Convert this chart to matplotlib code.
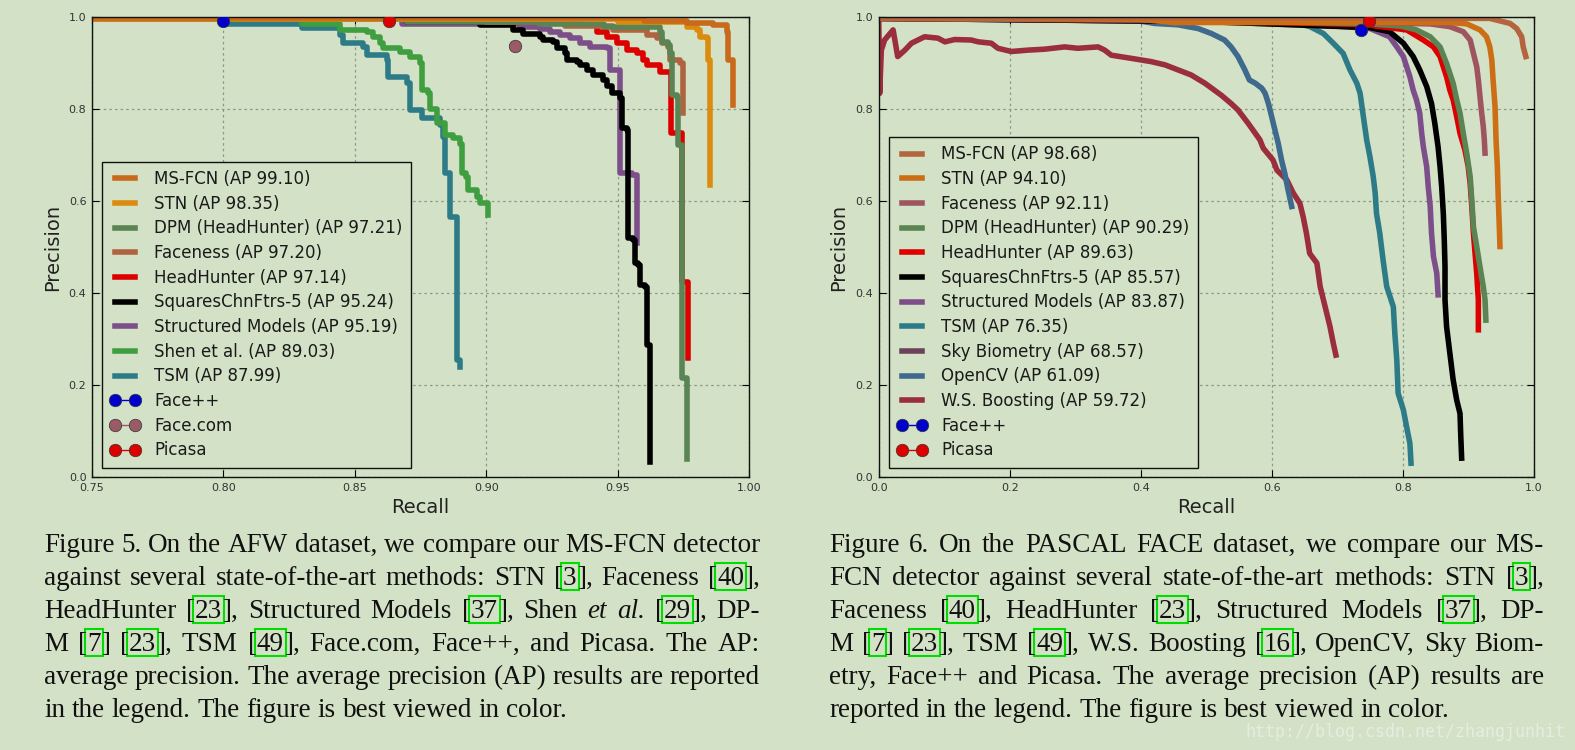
import re
import matplotlib
matplotlib.use("Agg")
import matplotlib.pyplot as plt
from matplotlib.lines import Line2D
from matplotlib.patches import Rectangle
from matplotlib.ticker import FormatStrFormatter

BG = "#d3e2c6"
W, H = 1575, 750

# ---------------- Figure 5 (AFW): step curves, (recall, precision) knots
afw_msfcn = [(0.75, 0.997), (0.96, 0.992), (0.9763, 0.986), (0.9864, 0.983), (0.9915, 0.968),
             (0.9921, 0.907), (0.9940, 0.903), (0.9940, 0.809)]
afw_stn = [(0.75, 0.996), (0.95, 0.990), (0.9763, 0.979), (0.9801, 0.972), (0.9814, 0.957),
           (0.9839, 0.954), (0.9845, 0.907), (0.9852, 0.635)]
afw_dpm = [(0.75, 0.996), (0.87, 0.990), (0.92, 0.985), (0.945, 0.979), (0.9661, 0.968),
           (0.9668, 0.946), (0.9693, 0.939), (0.9699, 0.921), (0.9706, 0.830), (0.9725, 0.827),
           (0.9731, 0.722), (0.9744, 0.718), (0.9744, 0.215), (0.9763, 0.2115), (0.9763, 0.040)]
afw_faceness = [(0.75, 0.996), (0.90, 0.990), (0.93, 0.980), (0.9484, 0.972), (0.9611, 0.961),
                (0.9649, 0.954), (0.9668, 0.943), (0.9693, 0.935), (0.9699, 0.907), (0.9737, 0.899),
                (0.9748, 0.791)]
afw_headhunter = [(0.75, 0.996), (0.90, 0.990), (0.9357, 0.983), (0.9420, 0.968), (0.9459, 0.957),
                  (0.9497, 0.943), (0.9535, 0.928), (0.9573, 0.921), (0.9598, 0.907), (0.9611, 0.896),
                  (0.9661, 0.881), (0.9702, 0.823), (0.9702, 0.747), (0.9744, 0.725), (0.9744, 0.425),
                  (0.9769, 0.258)]
afw_squares = [(0.75, 0.996), (0.87, 0.990), (0.8976, 0.983), (0.9103, 0.972), (0.9141, 0.964),
               (0.9205, 0.957), (0.9217, 0.950), (0.9255, 0.946), (0.9268, 0.932), (0.9300, 0.921),
               (0.9306, 0.907), (0.9344, 0.903), (0.9357, 0.896), (0.9382, 0.885), (0.9408, 0.874),
               (0.9446, 0.863), (0.9459, 0.849), (0.9478, 0.834), (0.9509, 0.823), (0.9516, 0.758),
               (0.9535, 0.754), (0.9541, 0.519), (0.9560, 0.515), (0.9566, 0.465), (0.9579, 0.461),
               (0.9585, 0.417), (0.9604, 0.414), (0.9611, 0.287), (0.9623, 0.283), (0.9623, 0.033)]
afw_structured = [(0.75, 0.996), (0.868, 0.985), (0.9129, 0.979), (0.9205, 0.975), (0.9243, 0.968),
                  (0.9281, 0.961), (0.9319, 0.954), (0.9357, 0.943), (0.9395, 0.935), (0.9459, 0.932),
                  (0.9471, 0.885), (0.9510, 0.878), (0.9510, 0.660), (0.9554, 0.657), (0.9573, 0.602),
                  (0.9573, 0.508)]
afw_shen = [(0.75, 0.995), (0.83, 0.985), (0.8444, 0.972), (0.8545, 0.968), (0.8570, 0.957),
            (0.8596, 0.943), (0.8608, 0.932), (0.8672, 0.925), (0.8710, 0.914), (0.8748, 0.899),
            (0.8755, 0.841), (0.8780, 0.834), (0.8786, 0.801), (0.8812, 0.769), (0.8843, 0.743),
            (0.8875, 0.736), (0.8900, 0.725), (0.8907, 0.660), (0.8925, 0.653), (0.8932, 0.624),
            (0.8964, 0.609), (0.8976, 0.595), (0.9008, 0.570)]
afw_tsm = [(0.75, 0.995), (0.80, 0.985), (0.830, 0.976), (0.8444, 0.961), (0.8456, 0.943),
           (0.8532, 0.935), (0.8545, 0.917), (0.8621, 0.907), (0.8627, 0.870), (0.8697, 0.856),
           (0.8710, 0.798), (0.8755, 0.780), (0.8824, 0.765), (0.8837, 0.740), (0.8843, 0.661),
           (0.8862, 0.566), (0.8888, 0.254), (0.8900, 0.239)]
afw_facepp = (0.7998, 0.991)
afw_facecom = (0.911, 0.937)
afw_picasa = (0.8629, 0.991)

afw_labels = ["MS-FCN (AP 99.10)", "STN (AP 98.35)", "DPM (HeadHunter) (AP 97.21)",
              "Faceness (AP 97.20)", "HeadHunter (AP 97.14)", "SquaresChnFtrs-5 (AP 95.24)",
              "Structured Models (AP 95.19)", "Shen et al. (AP 89.03)", "TSM (AP 87.99)"]
afw_curves = [afw_msfcn, afw_stn, afw_dpm, afw_faceness, afw_headhunter, afw_squares,
              afw_structured, afw_shen, afw_tsm]
afw_colors = ["#c8691c", "#db8b0e", "#5a8453", "#b0633f", "#dd0000", "#000000",
              "#7d4f8a", "#3f9e3f", "#2e7b88"]

# ---------------- Figure 6 (PASCAL FACE): (recall, precision) points
pas_msfcn = [(0.0, 0.998), (0.3, 0.998), (0.6, 0.998), (0.9, 0.997), (0.933, 0.997), (0.964, 0.986),
             (0.974, 0.975), (0.9817, 0.957), (0.984, 0.935), (0.988, 0.914)]
pas_stn = [(0.0, 0.998), (0.4, 0.995), (0.45, 0.988), (0.872, 0.988), (0.8977, 0.985), (0.918, 0.972),
           (0.928, 0.957), (0.933, 0.935), (0.936, 0.907), (0.938, 0.863), (0.941, 0.805),
           (0.9425, 0.733), (0.9445, 0.675), (0.946, 0.602), (0.9475, 0.544), (0.9485, 0.501)]
pas_faceness = [(0.0, 0.997), (0.5, 0.995), (0.842, 0.985), (0.872, 0.979), (0.8925, 0.968),
                (0.903, 0.950), (0.908, 0.921), (0.913, 0.892), (0.9155, 0.863), (0.918, 0.827),
                (0.9206, 0.791), (0.923, 0.762), (0.9246, 0.733), (0.9257, 0.704)]
pas_dpm = [(0.0, 0.997), (0.5, 0.993), (0.75, 0.985), (0.798, 0.980), (0.821, 0.972), (0.842, 0.957),
           (0.857, 0.935), (0.867, 0.899), (0.877, 0.856), (0.8825, 0.820), (0.8875, 0.791),
           (0.8925, 0.747), (0.8977, 0.704), (0.903, 0.653), (0.9055, 0.602), (0.908, 0.544),
           (0.913, 0.501), (0.918, 0.457), (0.923, 0.414), (0.9257, 0.385), (0.927, 0.341)]
pas_headhunter = [(0.0, 0.997), (0.5, 0.992), (0.75, 0.983), (0.760, 0.980), (0.806, 0.972),
                  (0.8315, 0.950), (0.847, 0.935), (0.857, 0.914), (0.867, 0.870), (0.872, 0.841),
                  (0.877, 0.820), (0.8825, 0.783), (0.8875, 0.747), (0.895, 0.711), (0.900, 0.675),
                  (0.903, 0.638), (0.9055, 0.588), (0.908, 0.530), (0.9105, 0.486), (0.913, 0.443),
                  (0.9155, 0.385), (0.9155, 0.320)]
pas_squares = [(0.0, 0.997), (0.5, 0.990), (0.75, 0.977), (0.780, 0.968), (0.801, 0.943),
               (0.816, 0.914), (0.826, 0.885), (0.8366, 0.849), (0.844, 0.812), (0.849, 0.769),
               (0.854, 0.718), (0.857, 0.675), (0.8595, 0.631), (0.862, 0.573), (0.8635, 0.515),
               (0.8646, 0.457), (0.8646, 0.385), (0.867, 0.327), (0.872, 0.269), (0.877, 0.2115),
               (0.8825, 0.167), (0.8875, 0.138), (0.8885, 0.095), (0.890, 0.041)]
pas_structured = [(0.0, 0.997), (0.5, 0.990), (0.70, 0.980), (0.750, 0.975), (0.780, 0.957),
                  (0.791, 0.935), (0.801, 0.914), (0.806, 0.892), (0.811, 0.870), (0.816, 0.841),
                  (0.821, 0.820), (0.826, 0.791), (0.829, 0.747), (0.8315, 0.718), (0.8366, 0.675),
                  (0.839, 0.631), (0.842, 0.588), (0.844, 0.530), (0.847, 0.479), (0.852, 0.443),
                  (0.854, 0.396)]
pas_tsm = [(0.0, 0.997), (0.3, 0.993), (0.55, 0.990), (0.633, 0.988), (0.6585, 0.979), (0.679, 0.964),
           (0.694, 0.943), (0.709, 0.921), (0.7195, 0.885), (0.730, 0.856), (0.735, 0.834),
           (0.740, 0.783), (0.745, 0.733), (0.750, 0.696), (0.755, 0.653), (0.758, 0.617),
           (0.760, 0.573), (0.765, 0.530), (0.770, 0.472), (0.7756, 0.414), (0.7857, 0.370),
           (0.788, 0.312), (0.791, 0.254), (0.793, 0.182), (0.801, 0.146), (0.806, 0.109),
           (0.811, 0.073), (0.8127, 0.030)]
pas_sky = [(0.0, 0.998), (0.3, 0.997)]
pas_opencv = [(0.0, 0.998), (0.299, 0.993), (0.396, 0.992), (0.421, 0.986), (0.457, 0.983),
              (0.4875, 0.975), (0.508, 0.964), (0.528, 0.950), (0.538, 0.935), (0.5485, 0.914),
              (0.559, 0.885), (0.566, 0.863), (0.575, 0.856), (0.585, 0.845), (0.590, 0.834),
              (0.595, 0.812), (0.600, 0.783), (0.605, 0.754), (0.610, 0.725), (0.615, 0.689),
              (0.620, 0.660), (0.625, 0.624), (0.6305, 0.588)]
pas_wsboost = [(0.0, 1.0), (0.0015, 0.834), (0.004, 0.928), (0.009, 0.950), (0.022, 0.972),
               (0.029, 0.914), (0.040, 0.928), (0.050, 0.943), (0.070, 0.957), (0.0905, 0.954),
               (0.101, 0.946), (0.116, 0.951), (0.141, 0.950), (0.152, 0.946), (0.172, 0.943),
               (0.182, 0.932), (0.2025, 0.925), (0.228, 0.928), (0.253, 0.930), (0.284, 0.935),
               (0.304, 0.932), (0.335, 0.935), (0.345, 0.928), (0.355, 0.917), (0.386, 0.910),
               (0.416, 0.903), (0.437, 0.896), (0.457, 0.885), (0.477, 0.874), (0.498, 0.856),
               (0.523, 0.830), (0.538, 0.812), (0.5485, 0.798), (0.564, 0.769), (0.582, 0.733),
               (0.587, 0.715), (0.602, 0.689), (0.608, 0.667), (0.623, 0.646), (0.633, 0.617),
               (0.643, 0.595), (0.648, 0.566), (0.653, 0.530), (0.658, 0.486), (0.669, 0.465),
               (0.674, 0.414), (0.679, 0.385), (0.689, 0.327), (0.694, 0.291), (0.698, 0.265)]
pas_facepp = (0.736, 0.972)
pas_picasa = (0.7486, 0.992)

pas_labels = ["MS-FCN (AP 98.68)", "STN (AP 94.10)", "Faceness (AP 92.11)",
              "DPM (HeadHunter) (AP 90.29)", "HeadHunter (AP 89.63)", "SquaresChnFtrs-5 (AP 85.57)",
              "Structured Models (AP 83.87)", "TSM (AP 76.35)", "Sky Biometry (AP 68.57)",
              "OpenCV (AP 61.09)", "W.S. Boosting (AP 59.72)"]
pas_curves = [pas_msfcn, pas_stn, pas_faceness, pas_dpm, pas_headhunter, pas_squares,
              pas_structured, pas_tsm, pas_sky, pas_opencv, pas_wsboost]
pas_colors = ["#b5653e", "#cc6e14", "#9e5560", "#5a8453", "#dd0000", "#000000",
              "#7d4f8a", "#2e7b88", "#6b4257", "#3e6a8e", "#9b2e3c"]

# ---------------- captions ({..} = boxed citation, *..* = italic)
cap5 = ["Figure 5. On the AFW dataset, we compare our MS-FCN detector",
        "against several state-of-the-art methods: STN [{3}], Faceness [{40}],",
        "HeadHunter [{23}], Structured Models [{37}], Shen *et* *al.* [{29}], DP-",
        "M [{7}] [{23}], TSM [{49}], Face.com, Face++, and Picasa. The AP:",
        "average precision. The average precision (AP) results are reported",
        "in the legend. The figure is best viewed in color."]
cap6 = ["Figure 6. On the PASCAL FACE dataset, we compare our MS-",
        "FCN detector against several state-of-the-art methods: STN [{3}],",
        "Faceness [{40}], HeadHunter [{23}], Structured Models [{37}], DP-",
        "M [{7}] [{23}], TSM [{49}], W.S. Boosting [{16}], OpenCV, Sky Biom-",
        "etry, Face++ and Picasa. The average precision (AP) results are",
        "reported in the legend. The figure is best viewed in color."]

fig = plt.figure(figsize=(W / 100, H / 100), dpi=100, facecolor=BG)


def setup_axes(ax, xlim, xfmt):
    ax.set_facecolor(BG)
    ax.set_xlim(*xlim)
    ax.set_ylim(0, 1.0)
    ax.xaxis.set_major_formatter(FormatStrFormatter(xfmt))
    ax.yaxis.set_major_formatter(FormatStrFormatter("%.1f"))
    ax.grid(True, linestyle=(0, (2, 2.5)), color="#8c968a", linewidth=0.9)
    ax.tick_params(direction="in", top=True, right=True, length=5, labelsize=8, pad=4,
                   labelcolor="#333333")
    for s in ax.spines.values():
        s.set_linewidth(1.0)
        s.set_color("#111111")
    ax.set_xlabel("Recall", fontsize=14, labelpad=4, color="#222222")
    ax.set_ylabel("Precision", fontsize=14, labelpad=5, color="#222222")


def marker_handle(color):
    return Line2D([], [], color=color, marker="o", markersize=9, lw=1,
                  markeredgecolor="#333333", markeredgewidth=0.5)


def add_legend(ax, handles, labels):
    leg = ax.legend(handles, labels, loc="lower left", bbox_to_anchor=(0.015, 0.02),
                    borderaxespad=0, fontsize=12, fancybox=False, framealpha=1,
                    facecolor=BG, edgecolor="#111111", handlelength=1.8, handletextpad=0.85,
                    labelspacing=0.4, borderpad=0.5, numpoints=2)
    leg.get_frame().set_linewidth(1.0)
    for t in leg.get_texts():
        t.set_color("#1a1a1a")


# left panel
ax1 = fig.add_axes([92 / W, 1 - 477 / H, 657 / W, 460 / H])
setup_axes(ax1, (0.75, 1.0), "%.2f")
lines = {}
for i in range(len(afw_curves) - 1, -1, -1):
    r = [pt[0] for pt in afw_curves[i]]
    p = [pt[1] for pt in afw_curves[i]]
    lines[i], = ax1.plot(r, p, drawstyle="steps-post", color=afw_colors[i], lw=4)
ax1.plot(*afw_facepp, "o", color="#0000cc", ms=9, mec="#333333", mew=0.5, zorder=5)
ax1.plot(*afw_facecom, "o", color="#9a5a66", ms=9, mec="#333333", mew=0.5, zorder=5)
ax1.plot(*afw_picasa, "o", color="#dd0000", ms=9, mec="#333333", mew=0.5, zorder=5)
h1 = [lines[i] for i in range(len(afw_curves))]
h1 += [marker_handle("#0000cc"), marker_handle("#9a5a66"), marker_handle("#dd0000")]
add_legend(ax1, h1, afw_labels + ["Face++", "Face.com", "Picasa"])

# right panel
ax2 = fig.add_axes([878.7 / W, 1 - 477 / H, 655 / W, 460 / H])
setup_axes(ax2, (0.0, 1.0), "%.1f")
lines = {}
for i in range(len(pas_curves) - 1, -1, -1):
    r = [pt[0] for pt in pas_curves[i]]
    p = [pt[1] for pt in pas_curves[i]]
    lines[i], = ax2.plot(r, p, color=pas_colors[i], lw=4)
ax2.plot(*pas_facepp, "o", color="#0000cc", ms=9, mec="#333333", mew=0.5, zorder=5)
ax2.plot(*pas_picasa, "o", color="#dd0000", ms=9, mec="#333333", mew=0.5, zorder=5)
h2 = [lines[i] for i in range(len(pas_curves))]
h2 += [marker_handle("#0000cc"), marker_handle("#dd0000")]
add_legend(ax2, h2, pas_labels + ["Face++", "Picasa"])

# captions, justified like the paper
CAP_FS = 19.5
renderer = fig.canvas.get_renderer()


def seg_width(s, style):
    t = fig.text(0, 0, s, fontsize=CAP_FS, family="Liberation Serif", style=style)
    w = t.get_window_extent(renderer).width
    t.remove()
    return w


def parse(word):
    segs = []
    for m in re.findall(r"\{[^}]*\}|\*[^*]*\*|[^{*]+", word):
        if m.startswith("{"):
            segs.append((m[1:-1], "box"))
        elif m.startswith("*"):
            segs.append((m[1:-1], "italic"))
        else:
            segs.append((m, "normal"))
    return segs


space_w = seg_width("a a", "normal") - seg_width("aa", "normal")


def draw_caption(lines_, x0, x1, base0, step):
    for k, line in enumerate(lines_):
        base = base0 + k * step
        words = [parse(w) for w in line.split(" ") if w]
        widths = [[seg_width(s, "italic" if kind == "italic" else "normal") for s, kind in w] for w in words]
        total = sum(sum(ws) for ws in widths)
        last = k == len(lines_) - 1
        gap = space_w if last else (x1 - x0 - total) / (len(words) - 1)
        x = x0
        for w, ws in zip(words, widths):
            for (s, kind), sw in zip(w, ws):
                fig.text(x / W, 1 - base / H, s, fontsize=CAP_FS, family="Liberation Serif",
                         style="italic" if kind == "italic" else "normal",
                         va="baseline", ha="left", color="#111111")
                if kind == "box":
                    fig.add_artist(Rectangle(((x - 2) / W, 1 - (base + 5) / H), (sw + 4) / W, 27 / H,
                                             transform=fig.transFigure, fill=False,
                                             edgecolor="#00dd00", lw=1.5))
                x += sw
            x += gap


draw_caption(cap5, 44, 760, 551.7, 33.1)
draw_caption(cap6, 829, 1544, 551.7, 33.1)

fig.text(1245 / W, 1 - 737 / H, "http://blog.csdn.net/zhangjunhit", fontsize=12,
         family="DejaVu Sans Mono", color="#e6ede0", va="baseline")

fig.savefig("out.png", dpi=100, facecolor=BG)
